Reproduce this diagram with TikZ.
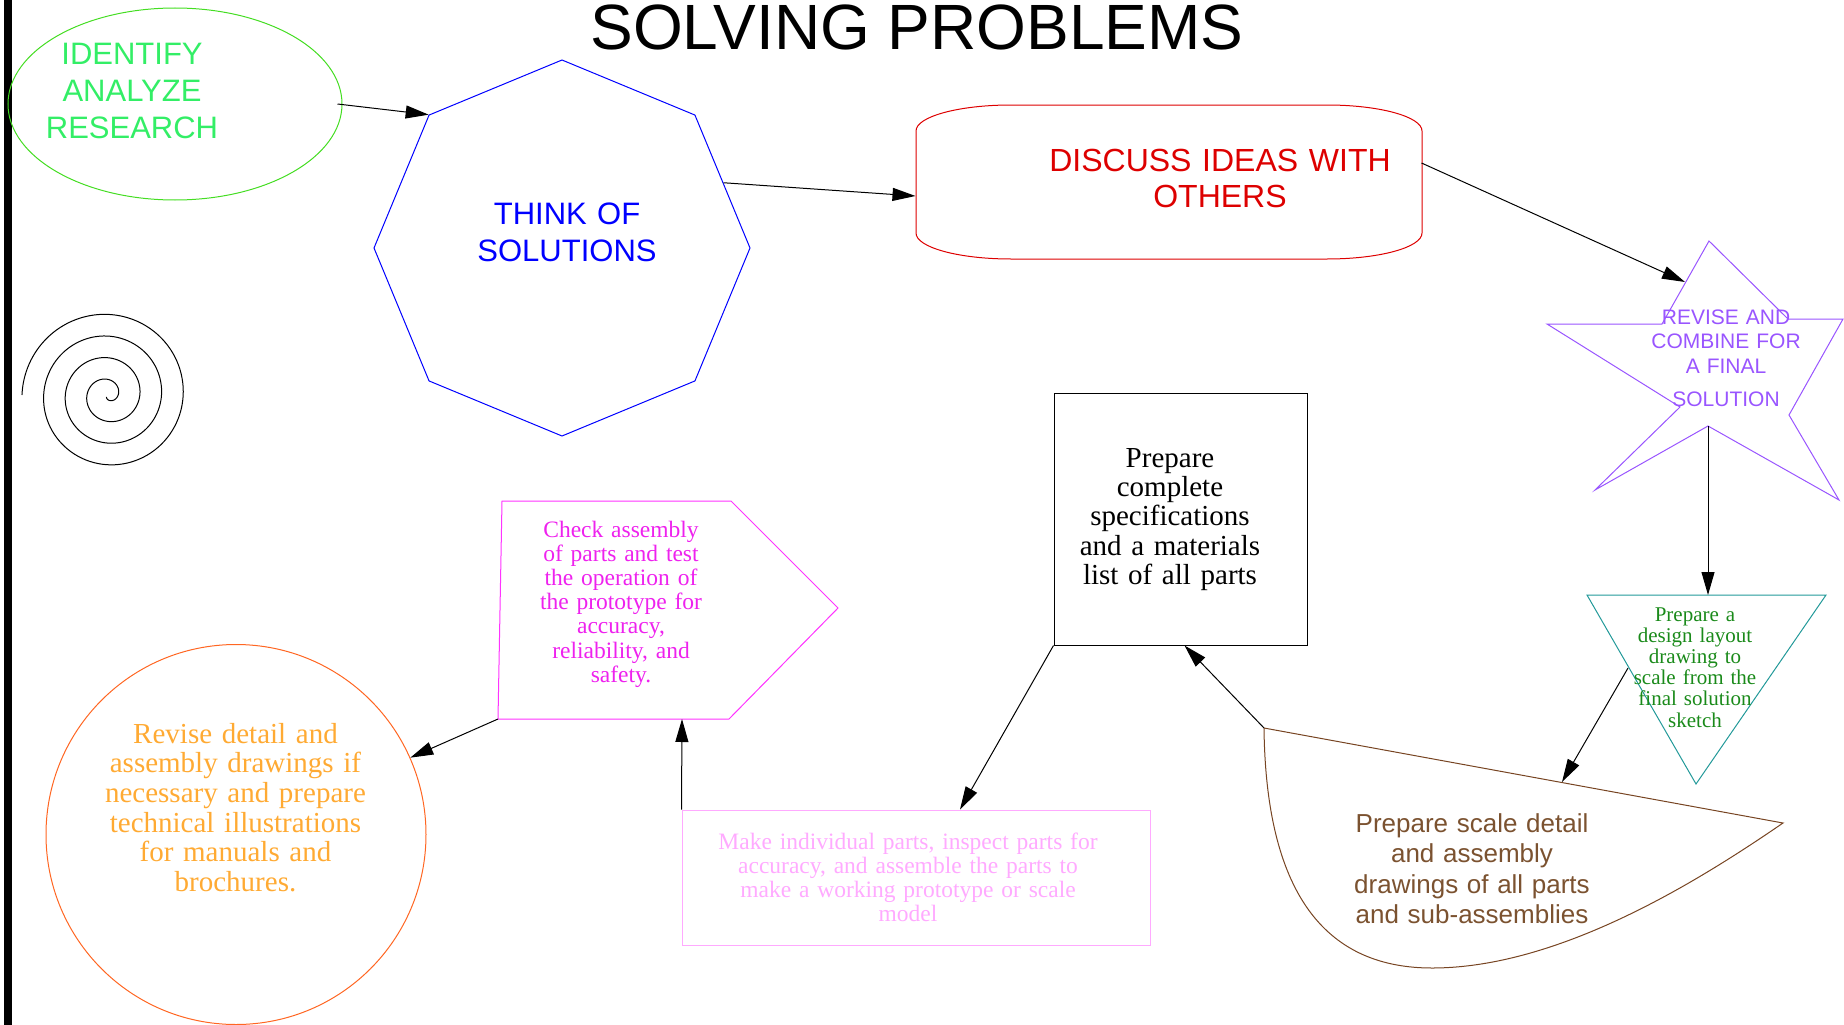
\documentclass[tikz,border=0pt]{standalone}
\usepackage{fontspec}
\setmainfont{Liberation Serif}
\setsansfont{Liberation Sans}
\usetikzlibrary{arrows.meta,shapes.geometric,calc}
\definecolor{cEllStroke}{HTML}{44DD22}
\definecolor{cEllText}{HTML}{33EE66}
\definecolor{cBlue}{HTML}{0000FF}
\definecolor{cRed}{HTML}{DD0000}
\definecolor{cPurple}{HTML}{9955FF}
\definecolor{cTeal}{HTML}{229999}
\definecolor{cGreenT}{HTML}{1A8A1A}
\definecolor{cBrown}{HTML}{774422}
\definecolor{cBrownT}{HTML}{7B5230}
\definecolor{cMag}{HTML}{FF33FF}
\definecolor{cMagT}{HTML}{EE22EE}
\definecolor{cPink}{HTML}{FFAAFF}
\definecolor{cOrange}{HTML}{FF6622}
\definecolor{cOrangeT}{HTML}{FFAA33}
\begin{document}
\begin{tikzpicture}[x=1pt,y=-1pt,line width=1pt,
  conn/.style={-{Triangle[length=23pt,width=13pt]},line width=1pt,draw=black},
  lbl/.style={inner sep=0pt,anchor=base,align=center,text width=#1}]
\useasboundingbox (0,0) rectangle (1844,1025);
% left bar
\draw[line width=8pt] (8,0) -- (8,1025);
% title
\node[inner sep=0pt,anchor=base,font=\sffamily\fontsize{64}{70}\selectfont] (title) at (917,50) {SOLVING PROBLEMS};
% ellipse
\node[ellipse,draw=cEllStroke,minimum width=334pt,minimum height=192pt,inner sep=0pt] (ell) at (175,104) {};
\node[lbl=220pt,font=\sffamily\fontsize{31}{37}\selectfont,text=cEllText] (tIdent) at (132,64) {IDENTIFY\\ANALYZE\\RESEARCH};
% octagon
\node[regular polygon,regular polygon sides=8,minimum size=376pt,draw=cBlue,inner sep=0pt,shape border rotate=22.5] (oct) at (562,248) {};
\node[lbl=260pt,font=\sffamily\fontsize{31}{37}\selectfont,text=cBlue] (tThink) at (567,224) {THINK OF\\SOLUTIONS};
% discuss
\node[rectangle,minimum width=506pt,minimum height=154pt,inner sep=0pt] (disc) at (1169,182) {};
\draw[draw=cRed] (916,131) -- (916,233) arc[start angle=180,end angle=90,x radius=95,y radius=26]
  -- (1327,259) arc[start angle=90,end angle=0,x radius=95,y radius=26]
  -- (1422,131) arc[start angle=0,end angle=-90,x radius=95,y radius=26]
  -- (1011,105) arc[start angle=-90,end angle=-180,x radius=95,y radius=26] -- cycle;
\node[lbl=400pt,font=\sffamily\fontsize{32}{36}\selectfont,text=cRed] (tDisc) at (1220,171) {DISCUSS IDEAS WITH\\OTHERS};
% star
\draw[draw=cPurple] (1709,241) -- (1788,319) -- (1843,319) -- (1789,415) -- (1839,500) -- (1708,426)
  -- (1595,490) -- (1680,407) -- (1547,324) -- (1662,324) -- cycle;
\coordinate (starIn) at (1685,282);
\coordinate (starBot) at (1708,426);
\node[lbl=200pt,font=\sffamily\fontsize{21}{24.5}\selectfont,text=cPurple] (tStar) at (1726,324) {REVISE AND\\COMBINE FOR\\A FINAL\\[8.5pt]SOLUTION};
% triangle
\draw[draw=cTeal] (1587,595) -- (1826,595) -- (1696,784) -- cycle;
\coordinate (triIn) at (1708,595);
\coordinate (triOut) at (1628,668);
\node[lbl=200pt,font=\rmfamily\fontsize{21}{21.2}\selectfont,text=cGreenT] (tTri) at (1695,621) {Prepare a\\design layout\\drawing to\\scale from the\\final solution\\sketch};
% brown shape
\draw[draw=cBrown] (1264,728) -- (1783,823) .. controls (1700,880) and (1560,968) .. (1432,968)
  .. controls (1330,968) and (1266,900) .. (1264,728) -- cycle;
\coordinate (brTL) at (1264,728);
\coordinate (brIn) at (1562,782);
\node[lbl=320pt,font=\sffamily\fontsize{26}{30.6}\selectfont,text=cBrownT] (tBrown) at (1472,832) {Prepare scale detail\\and assembly\\drawings of all parts\\and sub-assemblies};
% square
\node[rectangle,draw=black,minimum width=253pt,minimum height=252pt,inner sep=0pt] (sq) at (1180.5,519) {};
\node[lbl=250pt,font=\rmfamily\fontsize{29}{29.4}\selectfont,text=black] (tSq) at (1170,467) {Prepare\\complete\\specifications\\and a materials\\list of all parts};
% pentagon
\draw[draw=cMag] (502,501) -- (731,501) -- (838,608) -- (729,719) -- (498,719) -- cycle;
\coordinate (pBL) at (498,719);
\coordinate (pIn) at (682,719);
\node[lbl=220pt,font=\rmfamily\fontsize{23.5}{24.2}\selectfont,text=cMagT] (tPent) at (621,537) {Check assembly\\of parts and test\\the operation of\\the prototype for\\accuracy,\\reliability, and\\safety.};
% make rect
\node[rectangle,draw=cPink,minimum width=468pt,minimum height=135.5pt,inner sep=0pt] (mk) at (916,877.75) {};
\node[lbl=460pt,font=\rmfamily\fontsize{23.5}{24.2}\selectfont,text=cPink] (tMk) at (908,849) {Make individual parts, inspect parts for\\accuracy, and assemble the parts to\\make a working prototype or scale\\model};
% circle
\node[circle,draw=cOrange,minimum size=380pt,inner sep=0pt] (circ) at (236,834.5) {};
\node[lbl=340pt,font=\rmfamily\fontsize{29}{29.7}\selectfont,text=cOrangeT] (tCirc) at (235.5,743) {Revise detail and\\assembly drawings if\\necessary and prepare\\technical illustrations\\for manuals and\\brochures.};
% spiral
\draw[black,line width=1pt] plot[domain=40:1429,samples=400,smooth,variable=\t] ({108+0.0602*\t*cos(\t+191)},{395-0.0602*\t*sin(\t+191)});
% connectors
\draw[conn] ($(ell.east)+(-5,0)$) -- (oct.135);
\draw[conn] (oct.22.5) -- ($(disc.west)+(0,14)$);
\draw[conn] ($(disc.east)+(-1,-19)$) -- (starIn);
\draw[conn] (starBot) -- (triIn);
\draw[conn] (triOut) -- (brIn);
\draw[conn] (brTL) -- ($(sq.south)+(4,0)$);
\draw[conn] (sq.south west) -- ($(mk.north)+(44,0)$);
\draw[conn] (mk.north west) -- (pIn);
\draw[conn] (pBL) -- (circ);
\end{tikzpicture}
\end{document}
